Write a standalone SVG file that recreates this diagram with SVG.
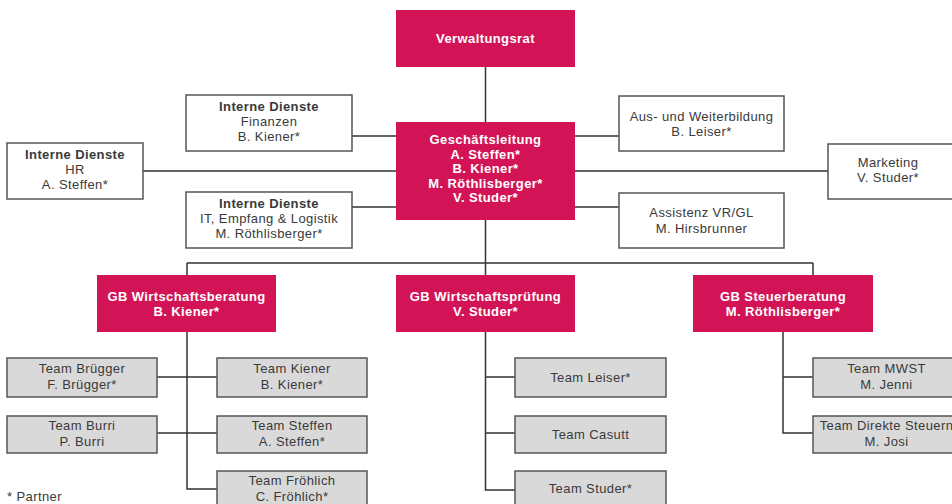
<svg xmlns="http://www.w3.org/2000/svg" width="952" height="504" viewBox="0 0 952 504">
<style>
text{font-family:"Liberation Sans",Arial,sans-serif;font-size:13px;letter-spacing:0.4px;text-anchor:middle;fill:#3a3a3a}
.b{font-weight:bold}
.red rect{fill:#d21457;stroke:none}
.red text{fill:#fff;font-weight:bold}
.wht rect{fill:#fff;stroke:#555;stroke-width:1.5}
.gry rect{fill:#d9d9d9;stroke:#555;stroke-width:1.5}
#connectors path{fill:none;stroke:#333;stroke-width:1.5}
.note{text-anchor:start}
</style>
<rect width="952" height="504" fill="#fff"/>
<g id="connectors">
<path d="M485.5,67V122"/>
<path d="M352,136H396M143,171H396M352,207H396"/>
<path d="M575,136H619M575,171H828M575,207H619"/>
<path d="M485.5,220V275M187,263H813M187,263V275M813,263V275"/>
<path d="M187,332V489H217M157,377H217M157,433H217"/>
<path d="M485.5,332V490H515M485.5,377H515M485.5,433H515"/>
<path d="M783,332V433H813M783,377H813"/>
</g>
<g id="verwaltungsrat" class="red"><rect x="396" y="10" width="179" height="57"/><text x="485.5" y="43">Verwaltungsrat</text></g>
<g id="geschaeftsleitung" class="red"><rect x="396" y="122" width="179" height="98"/>
<text x="485.5" y="144">Geschäftsleitung</text><text x="485.5" y="158.5">A. Steffen*</text><text x="485.5" y="173">B. Kiener*</text><text x="485.5" y="187.5">M. Röthlisberger*</text><text x="485.5" y="202">V. Studer*</text></g>
<g id="finanzen" class="wht"><rect x="186" y="95" width="166" height="56"/><text class="b" x="269" y="111">Interne Dienste</text><text x="269" y="126">Finanzen</text><text x="269" y="141">B. Kiener*</text></g>
<g id="hr" class="wht"><rect x="7" y="143" width="136" height="56"/><text class="b" x="75" y="159">Interne Dienste</text><text x="75" y="174">HR</text><text x="75" y="189">A. Steffen*</text></g>
<g id="it" class="wht"><rect x="186" y="192" width="166" height="56"/><text class="b" x="269" y="208">Interne Dienste</text><text x="269" y="223">IT, Empfang &amp; Logistik</text><text x="269" y="238">M. Röthlisberger*</text></g>
<g id="weiterbildung" class="wht"><rect x="619" y="96" width="165" height="55"/><text x="701.5" y="121">Aus- und Weiterbildung</text><text x="701.5" y="136">B. Leiser*</text></g>
<g id="marketing" class="wht"><rect x="828" y="144" width="134" height="55"/><text x="888" y="167">Marketing</text><text x="888" y="182">V. Studer*</text></g>
<g id="assistenz" class="wht"><rect x="619" y="193" width="165" height="55"/><text x="701.5" y="217">Assistenz VR/GL</text><text x="701.5" y="233">M. Hirsbrunner</text></g>
<g id="gb-beratung" class="red"><rect x="97" y="275" width="179" height="57"/><text x="186.5" y="301">GB Wirtschaftsberatung</text><text x="186.5" y="316">B. Kiener*</text></g>
<g id="gb-pruefung" class="red"><rect x="396" y="275" width="179" height="57"/><text x="485.5" y="301">GB Wirtschaftsprüfung</text><text x="485.5" y="316">V. Studer*</text></g>
<g id="gb-steuer" class="red"><rect x="693" y="275" width="180" height="57"/><text x="783" y="301">GB Steuerberatung</text><text x="783" y="316">M. Röthlisberger*</text></g>
<g id="team-bruegger" class="gry"><rect x="7" y="358" width="150" height="39"/><text x="82" y="373">Team Brügger</text><text x="82" y="389">F. Brügger*</text></g>
<g id="team-burri" class="gry"><rect x="7" y="416" width="150" height="37"/><text x="82" y="430">Team Burri</text><text x="82" y="446">P. Burri</text></g>
<g id="team-kiener" class="gry"><rect x="217" y="358" width="150" height="39"/><text x="292" y="373">Team Kiener</text><text x="292" y="389">B. Kiener*</text></g>
<g id="team-steffen" class="gry"><rect x="217" y="416" width="150" height="37"/><text x="292" y="430">Team Steffen</text><text x="292" y="446">A. Steffen*</text></g>
<g id="team-froehlich" class="gry"><rect x="217" y="471" width="150" height="39"/><text x="292" y="485">Team Fröhlich</text><text x="292" y="501">C. Fröhlich*</text></g>
<g id="team-leiser" class="gry"><rect x="515" y="358" width="151" height="39"/><text x="590.5" y="382">Team Leiser*</text></g>
<g id="team-casutt" class="gry"><rect x="515" y="416" width="151" height="37"/><text x="590.5" y="439">Team Casutt</text></g>
<g id="team-studer" class="gry"><rect x="515" y="471" width="151" height="39"/><text x="590.5" y="493">Team Studer*</text></g>
<g id="team-mwst" class="gry"><rect x="813" y="358" width="147" height="39"/><text x="886.5" y="373">Team MWST</text><text x="886.5" y="389">M. Jenni</text></g>
<g id="team-direkte-steuern" class="gry"><rect x="813" y="416" width="147" height="37"/><text x="886.5" y="430">Team Direkte Steuern</text><text x="886.5" y="446">M. Josi</text></g>
<text class="note" x="7" y="501">* Partner</text>
</svg>
